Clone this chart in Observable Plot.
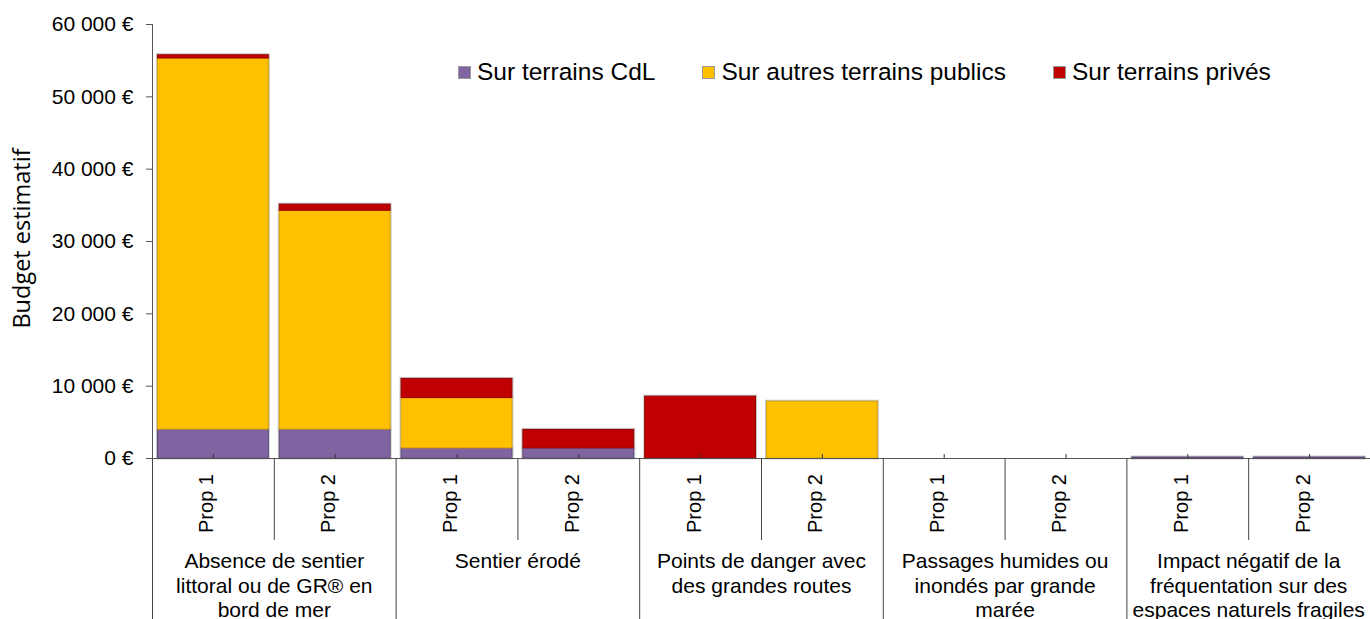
<!DOCTYPE html>
<html>
<head>
<meta charset="utf-8">
<script src="https://cdn.jsdelivr.net/npm/d3@7"></script>
<script src="https://cdn.jsdelivr.net/npm/@observablehq/plot@0.6"></script>
<style>
  html, body { margin: 0; padding: 0; background: #fff; }
  #wrap { position: relative; width: 1370px; height: 619px; overflow: hidden; }
  #legend { position: absolute; top: 58px; left: 458px; display: flex; align-items: center;
    font-family: "Liberation Sans", Arial, sans-serif; font-size: 24.5px; color: #000; }
  #legend .item { display: flex; align-items: center; margin-right: 47px; white-space: nowrap; }
  #legend .sw { width: 11px; height: 11px; margin-right: 6px; border: 1px solid #999; }
</style>
</head>
<body>
<div id="wrap"><div id="legend"></div></div>
<script>
// ---- data ----
const groups = [
  "Absence de sentier\nlittoral ou de GR® en\nbord de mer",
  "Sentier érodé",
  "Points de danger avec\ndes grandes routes",
  "Passages humides ou\ninondés par grande\nmarée",
  "Impact négatif de la\nfréquentation sur des\nespaces naturels fragiles"
];
const props = ["Prop 1", "Prop 2"];
const series = ["Sur terrains CdL", "Sur autres terrains publics", "Sur terrains privés"];
const colors = ["#8064A2", "#FFC000", "#C00000"];
const strokes = ["#5E4A7A", "#D9A300", "#9A0000"];
// one value per bar (group 1 Prop 1, group 1 Prop 2, group 2 Prop 1, ...)
const cdl    = [4000, 4000, 1400, 1400, 0, 0, 0, 0, 130, 130];
const autres = [51300, 30250, 6950, 0, 0, 7850, 0, 0, 0, 0];
const prives = [450, 850, 2650, 2550, 8550, 0, 0, 0, 0, 0];
const yTicks = [0, 10000, 20000, 30000, 40000, 50000, 60000];

// ---- build table ----
const bars = [];
groups.forEach((g, gi) => props.forEach((p, pi) => bars.push({key: gi + "-" + pi, group: g, prop: p, gi, pi})));
const keys = bars.map(b => b.key);
const table = [];
const seriesValues = [cdl, autres, prives];
bars.forEach((b, i) => series.forEach((s, si) => {
  const v = seriesValues[si][i];
  if (v > 0) table.push({key: b.key, series: s, value: v, si});
}));
const groupStarts = bars.filter(b => b.pi === 0);
const innerSeps = bars.filter(b => b.pi === 1);

const width = 1370, height = 619, marginLeft = 152, marginRight = 0, marginTop = 24, marginBottom = 161;
const step = (width - marginLeft - marginRight) / bars.length;
const fmt = d => d3.format(",")(d).replace(/,/g, " ") + " €";
const font = "'Liberation Sans', Arial, sans-serif";

const chart = Plot.plot({
  width, height, marginLeft, marginRight, marginTop, marginBottom,
  style: {fontFamily: font, color: "#000", background: "transparent", overflow: "visible"},
  x: {domain: keys, paddingInner: 0.09, paddingOuter: 0.045, round: false, axis: null},
  y: {domain: [0, 60000], axis: null},
  color: {domain: series, range: colors},
  marks: [
    // bars: outer light outline then fill with darker inner edge
    Plot.barY(table, {x: "key", y: "value", z: "series", stroke: "#c9c9c9", strokeWidth: 3, fill: "none"}),
    Plot.barY(table, {x: "key", y: "value", z: "series", fill: "series", stroke: d => strokes[d.si], strokeWidth: 1}),
    // y axis
    Plot.frame({anchor: "left", stroke: "#555"}),
    Plot.axisY(yTicks, {tickSize: 6, tickPadding: 13, fontSize: 21, stroke: "#555", tickFormat: fmt, label: null, fill: "#000"}),
    Plot.text(["Budget estimatif"], {frameAnchor: "left", dx: -130, dy: -3, rotate: -90, textAnchor: "middle", fontSize: 23.5, fontFamily: "'Open Sans', sans-serif", text: d => d}),
    // x baseline
    Plot.ruleY([0], {stroke: "#555", strokeWidth: 1.2}),
    // center ticks pointing up
    Plot.ruleX(bars, {x: "key", insetTop: 430, stroke: "#333"}),
    // separators between the two bars of a group
    Plot.ruleX(innerSeps, {x: "key", dx: -step / 2, insetTop: 434, insetBottom: -82, stroke: "#444"}),
    // group separators
    Plot.ruleX(groupStarts, {x: "key", dx: -step / 2, insetTop: 434, insetBottom: -161, stroke: "#444"}),
    // Prop labels
    Plot.text(bars, {x: "key", text: "prop", frameAnchor: "bottom", dy: 45, rotate: -90, fontSize: 20}),
    // group labels
    Plot.text(groupStarts, {x: "key", dx: step / 2, text: "group", frameAnchor: "bottom", dy: 92, lineAnchor: "top", lineHeight: 1.17, fontSize: 21})
  ]
});
const wrap = document.getElementById("wrap");
wrap.insertBefore(chart, wrap.firstChild);

const legend = document.getElementById("legend");
series.forEach((s, i) => {
  const it = document.createElement("div");
  it.className = "item";
  const sw = document.createElement("span");
  sw.className = "sw";
  sw.style.background = colors[i];
  it.appendChild(sw);
  it.appendChild(document.createTextNode(s));
  legend.appendChild(it);
});
</script>
</body>
</html>
